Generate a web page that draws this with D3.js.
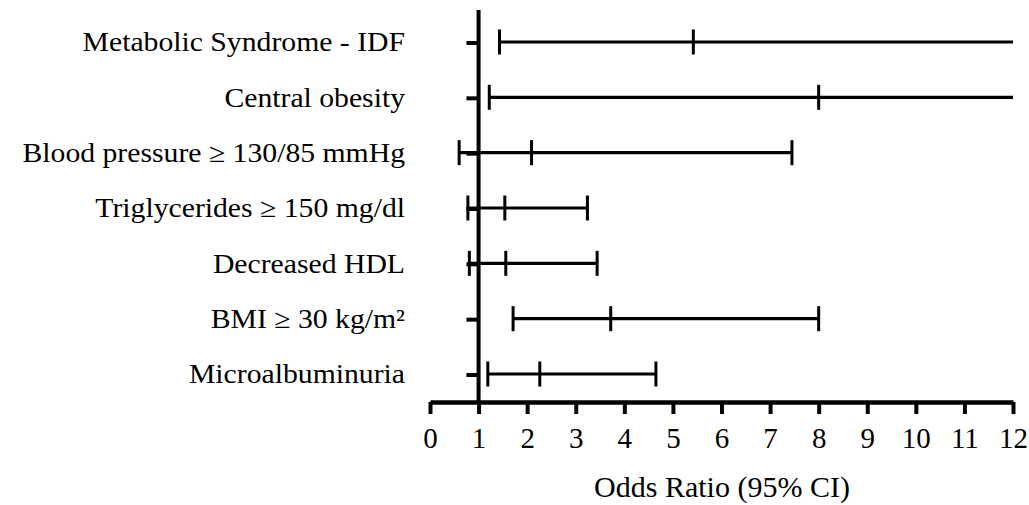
<!DOCTYPE html>
<html>
<head>
<meta charset="utf-8">
<script src="https://cdn.jsdelivr.net/npm/d3@7"></script>
<style>
html, body { margin: 0; padding: 0; background: #fff; }
svg { display: block; }
text { font-family: "Liberation Serif", "Times New Roman", serif; fill: #000; }
</style>
</head>
<body>
<svg id="chart" width="1029" height="505"></svg>
<script>
const categories = [
  "Metabolic Syndrome - IDF",
  "Central obesity",
  "Blood pressure \u2265 130/85 mmHg",
  "Triglycerides \u2265 150 mg/dl",
  "Decreased HDL",
  "BMI \u2265 30 kg/m\u00B2",
  "Microalbuminuria"
];
const oddsRatio = [5.42, 8.0, 2.09, 1.54, 1.56, 3.72, 2.26];
const ciLow     = [1.43, 1.22, 0.60, 0.78, 0.81, 1.71, 1.19];
const ciHigh    = [12, 12, 7.45, 3.24, 3.44, 8.0, 4.65];
const xTicks = [0,1,2,3,4,5,6,7,8,9,10,11,12];
const refValue = 1;
const stubStart = 0.75;
const xTitle = "Odds Ratio (95% CI)";

const svg = d3.select("#chart");
const plotLeft = 430, plotRight = 1013, axisY = 402;
const x = d3.scaleLinear().domain([0, 12]).range([plotLeft, plotRight]);
const y = d3.scalePoint().domain(categories).range([42, 374]);

const rows = categories.map((c, i) => ({c, or: oddsRatio[i], lo: ciLow[i], hi: ciHigh[i]}));

// reference vertical line at OR = 1
svg.append("line")
  .attr("x1", x(refValue)).attr("x2", x(refValue))
  .attr("y1", 10).attr("y2", axisY)
  .attr("stroke", "#000").attr("stroke-width", 4);

// small stubs
svg.selectAll(".stub").data(rows).enter().append("line")
  .attr("x1", x(stubStart)).attr("x2", x(refValue))
  .attr("y1", d => y(d.c) + 1).attr("y2", d => y(d.c) + 1)
  .attr("stroke", "#000").attr("stroke-width", 4);

const g = svg.selectAll(".row").data(rows).enter().append("g");
const capH = 12.5;
g.append("line")
  .attr("x1", d => x(d.lo)).attr("x2", d => x(d.hi))
  .attr("y1", d => y(d.c)).attr("y2", d => y(d.c))
  .attr("stroke", "#000").attr("stroke-width", 3.2);
g.append("line")
  .attr("x1", d => x(d.lo)).attr("x2", d => x(d.lo))
  .attr("y1", d => y(d.c) - capH).attr("y2", d => y(d.c) + capH)
  .attr("stroke", "#000").attr("stroke-width", 3);
g.filter(d => d.hi < 12).append("line")
  .attr("x1", d => x(d.hi)).attr("x2", d => x(d.hi))
  .attr("y1", d => y(d.c) - capH).attr("y2", d => y(d.c) + capH)
  .attr("stroke", "#000").attr("stroke-width", 3);
g.append("line")
  .attr("x1", d => x(d.or)).attr("x2", d => x(d.or))
  .attr("y1", d => y(d.c) - capH).attr("y2", d => y(d.c) + capH)
  .attr("stroke", "#000").attr("stroke-width", 3);

// category labels (slightly widened serif, like the reference)
const labelRight = 405;
svg.selectAll(".lbl").data(rows).enter().append("text")
  .attr("transform", d => `translate(${labelRight},${y(d.c)}) scale(1.1,1)`)
  .attr("dy", "0.35em")
  .attr("text-anchor", "end")
  .style("font-size", "27px")
  .text(d => d.c);

// x axis
const axis = d3.axisBottom(x).tickValues(xTicks).tickFormat(d3.format("d")).tickSize(12).tickSizeOuter(0);
const ag = svg.append("g").attr("transform", `translate(0,${axisY})`).call(axis);
ag.select(".domain").attr("stroke", "#000").attr("stroke-width", 4.5);
ag.selectAll(".tick line").attr("stroke", "#000").attr("stroke-width", 4);
ag.selectAll(".tick text")
  .attr("y", 25)
  .style("font-size", "29px")
  .style("font-family", "'Liberation Serif', serif")
  .attr("fill", "#000");

svg.append("text")
  .attr("x", 722).attr("y", 497)
  .attr("text-anchor", "middle")
  .style("font-size", "30px")
  .text(xTitle);
</script>
</body>
</html>
